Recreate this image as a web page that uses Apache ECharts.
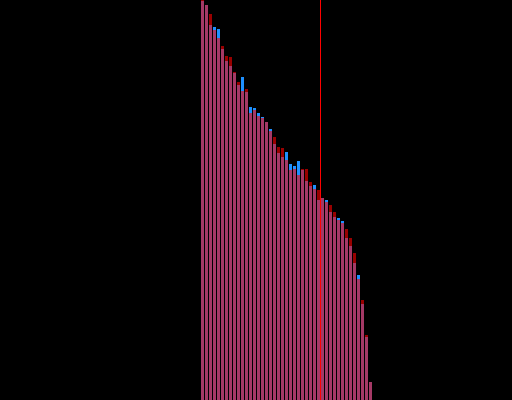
<!DOCTYPE html>
<html>
<head>
<meta charset="utf-8">
<script src="https://cdn.jsdelivr.net/npm/echarts@6/dist/echarts.min.js"></script>
<style>html,body{margin:0;padding:0;background:#000;}#c{width:512px;height:400px;}</style>
</head>
<body>
<div id="c"></div>
<script>
var categories = [];
for (var k = 1; k <= 43; k++) categories.push(String(k));
var seriesRed = [400,395,386,370,362,354,344,343,328,318,309,311,287,290,284,282,278,269,263,253,252,240,230,231,225,231,231,218,211,210,202,198,195,188,180,177,171,162,147,121,100,65,18];
var seriesBlue = [399,395,375,373,371,351,339,334,327,315,323,308,293,292,287,283,278,271,256,247,243,248,236,234,239,230,219,214,215,200,202,200,188,183,182,179,162,154,137,125,96,63,18];
var markerValue = 30;

var chart = echarts.init(document.getElementById('c'));
chart.setOption({
  backgroundColor: '#000000',
  animation: false,
  grid: {left: 200.5, right: 139.5, top: 0, bottom: 0},
  xAxis: [
    {type: 'category', data: categories, show: false},
    {type: 'value', min: 0, max: categories.length, show: false}
  ],
  yAxis: {type: 'value', min: 0, max: 400, show: false},
  series: [
    {type: 'bar', name: 'blue', data: seriesBlue, barWidth: 3, barGap: '-100%',
     itemStyle: {color: '#1e90ff'}},
    {type: 'bar', name: 'red', data: seriesRed, barWidth: 3, barGap: '-100%',
     itemStyle: {color: '#ff0000', opacity: 0.6}},
    {type: 'line', xAxisIndex: 1, data: [[markerValue, 0]], showSymbol: false, symbol: 'none',
     lineStyle: {opacity: 0}, z: 10,
     markLine: {symbol: 'none', silent: true, label: {show: false},
       lineStyle: {color: '#ff0000', width: 1, type: 'solid'},
       data: [{xAxis: markerValue}]}}
  ]
});
</script>
</body>
</html>
